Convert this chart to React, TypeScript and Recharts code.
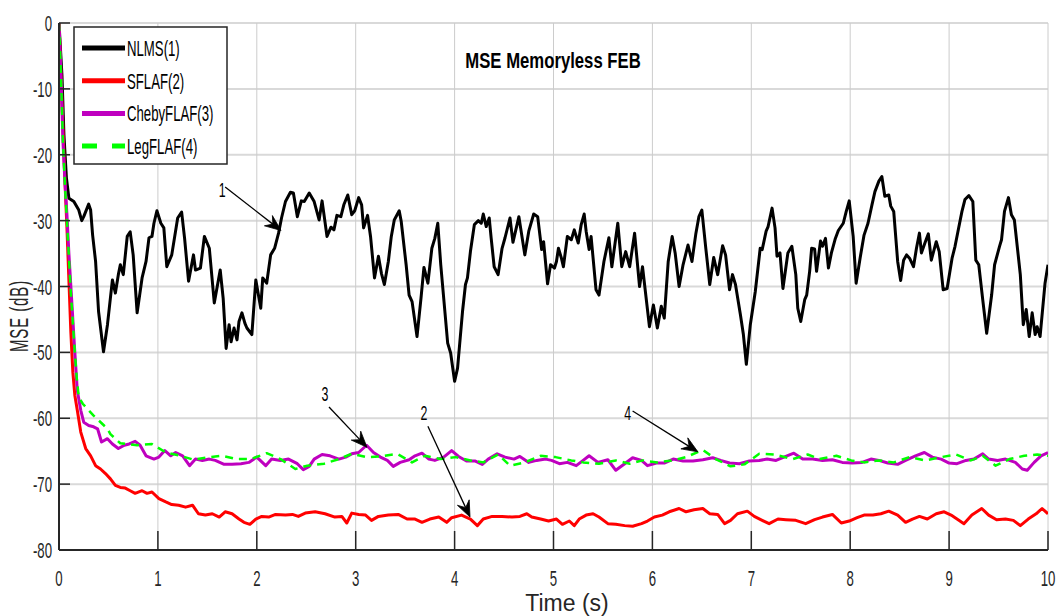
import React from 'react';
import { LineChart, Line, XAxis, YAxis, CartesianGrid, Legend, ReferenceLine, ReferenceDot } from 'recharts';

const xTicks = [0, 1, 2, 3, 4, 5, 6, 7, 8, 9, 10];
const yTicks = [-80, -70, -60, -50, -40, -30, -20, -10, 0];
const seriesNames = ['NLMS(1)', 'SFLAF(2)', 'ChebyFLAF(3)', 'LegFLAF(4)'];
const titleText = 'MSE Memoryless FEB';
const xLabel = 'Time (s)';
const yLabel = 'MSE (dB)';

const nlms: [number, number][] = [[0,0],[0.03,-8],[0.05,-17],[0.075,-23.5],[0.1,-26.6],[0.15,-27.1],[0.2,-28.4],[0.23,-30],[0.25,-29.4],[0.3,-27.5],[0.32,-28.4],[0.34,-32.2],[0.37,-36.2],[0.4,-43.8],[0.45,-49.9],[0.49,-45.8],[0.54,-39],[0.57,-41],[0.6,-38.2],[0.62,-36.7],[0.65,-38.2],[0.69,-32.4],[0.72,-31.7],[0.75,-35.2],[0.79,-44],[0.84,-38.7],[0.88,-36.2],[0.91,-32.6],[0.94,-32.4],[0.96,-30.4],[0.99,-28.5],[1.03,-30.4],[1.06,-31.1],[1.09,-37],[1.14,-35.2],[1.2,-29.6],[1.24,-28.7],[1.27,-32.7],[1.31,-39.2],[1.36,-35.2],[1.38,-37.5],[1.43,-37.2],[1.47,-32.4],[1.52,-34.2],[1.57,-42.5],[1.63,-37.5],[1.66,-41.8],[1.69,-49.4],[1.72,-45.8],[1.74,-48.4],[1.77,-46.3],[1.8,-48.1],[1.82,-45.3],[1.85,-44],[1.88,-45.6],[1.9,-46.3],[1.95,-47.3],[1.99,-39],[2.04,-43.3],[2.06,-38.7],[2.1,-39.5],[2.14,-35.2],[2.18,-34.2],[2.22,-31.9],[2.25,-29.6],[2.29,-27.1],[2.34,-25.7],[2.37,-25.8],[2.41,-29.4],[2.45,-27],[2.48,-27.1],[2.53,-25.8],[2.58,-27.1],[2.63,-29.9],[2.66,-27],[2.71,-32.4],[2.75,-31],[2.78,-31.4],[2.81,-29.2],[2.85,-29.4],[2.88,-27.6],[2.92,-26.1],[2.96,-29.1],[2.99,-28.5],[3.03,-26.5],[3.06,-27.6],[3.08,-31.1],[3.12,-29.2],[3.15,-32.4],[3.19,-38.7],[3.23,-35.4],[3.26,-38],[3.29,-39.7],[3.33,-36.2],[3.36,-32.4],[3.39,-29.9],[3.44,-28.5],[3.46,-30.1],[3.51,-36.7],[3.54,-41.3],[3.57,-42.3],[3.62,-47.6],[3.66,-41.8],[3.69,-37.1],[3.73,-39.5],[3.77,-34.2],[3.8,-32.7],[3.83,-30.4],[3.86,-36.7],[3.93,-48.6],[3.96,-50.1],[4,-54.4],[4.03,-52.4],[4.08,-43.8],[4.11,-39.7],[4.13,-38.7],[4.16,-34.7],[4.2,-30.6],[4.24,-30],[4.27,-30.4],[4.29,-29],[4.32,-30.9],[4.35,-29.6],[4.37,-32.7],[4.4,-37],[4.44,-38.2],[4.48,-34.2],[4.51,-32.6],[4.56,-29.6],[4.59,-33.3],[4.65,-29.4],[4.71,-35.2],[4.75,-31.6],[4.8,-29],[4.84,-29.4],[4.88,-34.4],[4.9,-33.2],[4.94,-39.6],[4.97,-36.7],[5.01,-37.2],[5.03,-36.2],[5.05,-34.2],[5.08,-35.7],[5.1,-37],[5.14,-32.4],[5.18,-32.9],[5.21,-31.4],[5.25,-33.4],[5.28,-30.6],[5.31,-29],[5.33,-31.6],[5.36,-34.4],[5.38,-32.4],[5.43,-40.5],[5.46,-41.3],[5.51,-36.2],[5.56,-32.6],[5.59,-37],[5.65,-30.4],[5.69,-37],[5.73,-34.7],[5.77,-37],[5.82,-31.9],[5.87,-40],[5.9,-37],[5.97,-46.1],[6.01,-42.8],[6.05,-46.3],[6.09,-43],[6.12,-44.8],[6.16,-36.2],[6.2,-32.4],[6.23,-34.9],[6.27,-40],[6.31,-36.7],[6.36,-33.7],[6.4,-36.2],[6.44,-31.9],[6.47,-29.4],[6.5,-28.4],[6.54,-34.2],[6.58,-39.7],[6.62,-35.6],[6.66,-38.2],[6.71,-33.8],[6.74,-35.2],[6.78,-40.5],[6.81,-38.2],[6.84,-39.7],[6.89,-44.3],[6.92,-47.3],[6.95,-51.8],[6.99,-45.8],[7.04,-40.8],[7.09,-34.2],[7.11,-34.4],[7.15,-31.6],[7.17,-30.9],[7.21,-28.1],[7.24,-31.1],[7.26,-35.4],[7.29,-34.9],[7.32,-40.3],[7.37,-34.9],[7.41,-33.9],[7.45,-38.2],[7.47,-43.3],[7.5,-45.3],[7.54,-42],[7.56,-41.3],[7.59,-37.7],[7.61,-34.2],[7.64,-34.3],[7.66,-37.7],[7.7,-33.1],[7.72,-33.9],[7.75,-32.7],[7.78,-37.2],[7.81,-34.9],[7.85,-32.7],[7.88,-31.5],[7.93,-30.4],[7.96,-28.6],[7.99,-27],[8.03,-32.4],[8.06,-39.5],[8.1,-35.7],[8.14,-32.2],[8.18,-30.4],[8.22,-27.6],[8.25,-25.6],[8.29,-24],[8.32,-23.3],[8.35,-26.3],[8.39,-26.1],[8.41,-27.8],[8.44,-28.6],[8.48,-36.2],[8.51,-39.1],[8.54,-36],[8.57,-35.2],[8.6,-35.7],[8.64,-37],[8.67,-34.2],[8.7,-31.9],[8.72,-34.9],[8.76,-33.2],[8.79,-32],[8.82,-36],[8.87,-33.2],[8.9,-34.7],[8.94,-40.5],[8.98,-40.3],[9.03,-35.7],[9.06,-33.9],[9.09,-31.6],[9.13,-28.6],[9.16,-26.8],[9.2,-26.2],[9.24,-27.1],[9.27,-36],[9.3,-36.7],[9.34,-42],[9.38,-47.1],[9.43,-41.3],[9.46,-36.7],[9.51,-33.9],[9.53,-32.9],[9.56,-28.6],[9.6,-26.5],[9.63,-29.1],[9.66,-29.9],[9.72,-38.2],[9.75,-45.8],[9.78,-43.5],[9.81,-47.6],[9.84,-44],[9.87,-47.3],[9.89,-46.1],[9.92,-47.6],[9.97,-39.5],[10,-36.7]];

const sflaf: [number, number][] = [[0,0],[0.02,-8],[0.04,-16],[0.06,-24],[0.08,-31],[0.1,-39],[0.12,-47],[0.14,-53],[0.16,-56.5],[0.185,-58.8],[0.22,-62.1],[0.27,-64.6],[0.32,-65.7],[0.37,-67.2],[0.42,-67.7],[0.47,-68.4],[0.52,-69.2],[0.57,-70.2],[0.62,-70.5],[0.67,-70.6],[0.72,-71],[0.77,-71.4],[0.84,-71],[0.89,-71.4],[0.94,-71.2],[1.01,-72.2],[1.08,-72.7],[1.14,-73.1],[1.21,-73.2],[1.28,-73.5],[1.35,-73.2],[1.41,-74.5],[1.48,-74.7],[1.55,-74.5],[1.62,-75],[1.68,-74.2],[1.75,-74.5],[1.82,-75.3],[1.87,-75.8],[1.93,-76.1],[1.99,-75.3],[2.05,-74.9],[2.12,-75],[2.19,-74.6],[2.29,-74.7],[2.36,-74.6],[2.42,-74.9],[2.49,-74.4],[2.59,-74.2],[2.69,-74.5],[2.79,-75],[2.86,-74.9],[2.91,-75.9],[2.96,-74.4],[3.03,-74.6],[3.1,-74.7],[3.16,-75.5],[3.23,-74.9],[3.33,-74.7],[3.43,-74.6],[3.52,-75.3],[3.6,-75.3],[3.67,-75.8],[3.75,-75.3],[3.84,-75],[3.92,-75.8],[3.97,-75.1],[4.07,-74.7],[4.16,-75.3],[4.23,-76.3],[4.29,-75.3],[4.38,-74.9],[4.48,-74.9],[4.58,-75],[4.66,-74.9],[4.73,-74.5],[4.78,-75],[4.87,-75.3],[4.95,-75.6],[5.03,-75.3],[5.09,-76.1],[5.16,-75.6],[5.21,-76.3],[5.26,-75.3],[5.33,-74.7],[5.4,-74.5],[5.46,-75],[5.55,-76],[5.63,-76.1],[5.72,-76.3],[5.8,-76.4],[5.89,-76],[5.95,-75.6],[6.02,-75],[6.1,-74.7],[6.17,-74.2],[6.27,-73.7],[6.34,-74.2],[6.42,-73.9],[6.51,-73.7],[6.58,-74.5],[6.66,-74.6],[6.73,-76],[6.79,-75.5],[6.86,-74.5],[6.96,-74.1],[7.03,-74.9],[7.11,-75.5],[7.18,-76],[7.27,-75.3],[7.35,-75.4],[7.45,-75.5],[7.55,-76],[7.64,-75.4],[7.72,-75],[7.82,-74.6],[7.91,-75.9],[7.99,-75.6],[8.07,-75.1],[8.14,-74.7],[8.23,-74.7],[8.31,-74.5],[8.39,-74.1],[8.48,-74.7],[8.56,-75.8],[8.63,-75.3],[8.7,-74.9],[8.78,-75.3],[8.87,-74.5],[8.95,-74.2],[9.02,-74.7],[9.08,-75.3],[9.15,-76],[9.23,-74.7],[9.33,-73.7],[9.4,-74.7],[9.48,-75.4],[9.57,-75.3],[9.65,-75.5],[9.72,-76.3],[9.8,-75.3],[9.88,-74.5],[9.94,-73.7],[10,-74.5]];

const cheby: [number, number][] = [[0,0],[0.02,-8],[0.04,-18],[0.06,-24],[0.08,-29],[0.1,-35],[0.12,-40],[0.14,-45],[0.16,-50],[0.185,-55.8],[0.22,-58.8],[0.25,-60.6],[0.3,-61.1],[0.35,-61.3],[0.39,-61.6],[0.43,-63.6],[0.49,-63.1],[0.54,-63.9],[0.6,-64.6],[0.66,-64.1],[0.71,-63.9],[0.77,-63.5],[0.82,-64.1],[0.88,-65.7],[0.96,-66.2],[1.01,-65.9],[1.07,-64.9],[1.13,-65.7],[1.18,-65.2],[1.25,-65.7],[1.32,-67.2],[1.38,-66.2],[1.45,-66.4],[1.52,-66.2],[1.58,-66.4],[1.67,-67],[1.75,-67],[1.84,-66.9],[1.92,-66.7],[2,-65.9],[2.09,-67.2],[2.15,-66.2],[2.24,-66.4],[2.32,-66.2],[2.41,-66.9],[2.47,-67.8],[2.53,-67.3],[2.58,-66.2],[2.66,-65.5],[2.74,-65.7],[2.83,-66.2],[2.9,-65.9],[2.96,-65.4],[3.03,-65.2],[3.11,-64.1],[3.18,-65.2],[3.25,-65.9],[3.32,-66.4],[3.38,-67.3],[3.45,-66.7],[3.54,-66.3],[3.6,-65.7],[3.67,-65.3],[3.74,-66.2],[3.8,-66.4],[3.89,-65.9],[3.97,-64.9],[4.04,-65.8],[4.12,-66.5],[4.21,-66.5],[4.28,-67],[4.34,-66.2],[4.43,-65.4],[4.51,-65.9],[4.6,-66.2],[4.66,-65.8],[4.75,-66.7],[4.83,-66.4],[4.92,-66.2],[4.98,-66.4],[5.06,-66.9],[5.14,-66.7],[5.23,-67.2],[5.3,-66.4],[5.36,-65.7],[5.45,-66.7],[5.55,-66.3],[5.63,-67.9],[5.72,-66.9],[5.8,-66],[5.89,-66.4],[5.95,-67.2],[6.04,-66.8],[6.12,-66.8],[6.21,-66.2],[6.31,-66.5],[6.41,-66.5],[6.51,-66.3],[6.61,-66],[6.69,-66.4],[6.78,-66.8],[6.88,-66.9],[6.98,-66.5],[7.08,-66.4],[7.16,-66.2],[7.25,-66.4],[7.33,-65.9],[7.43,-65.3],[7.52,-66.2],[7.62,-66.2],[7.72,-66.4],[7.82,-66.3],[7.92,-66.7],[8.02,-66.8],[8.12,-66.7],[8.21,-66.2],[8.29,-66.4],[8.38,-66.8],[8.48,-67],[8.56,-66.4],[8.66,-65.7],[8.75,-65.2],[8.83,-65.9],[8.92,-66.2],[9,-66.8],[9.08,-66.9],[9.17,-66.4],[9.25,-66.2],[9.34,-65.4],[9.4,-66.2],[9.49,-66.4],[9.57,-66.2],[9.67,-66.7],[9.74,-67.7],[9.79,-67.9],[9.86,-66.7],[9.93,-65.7],[10,-65.2]];

const leg: [number, number][] = [[0,0],[0.02,-8],[0.04,-18],[0.06,-24.5],[0.08,-30],[0.1,-35.5],[0.12,-41],[0.14,-45.5],[0.16,-50],[0.18,-54],[0.2,-56.8],[0.24,-57.8],[0.35,-59.6],[0.49,-61.6],[0.52,-62.4],[0.62,-63.8],[0.79,-64.1],[0.94,-63.9],[1.08,-65.2],[1.23,-65.7],[1.36,-66.3],[1.52,-65.9],[1.65,-65.7],[1.8,-66.2],[1.94,-66.2],[2.1,-65.3],[2.24,-66.2],[2.39,-67.7],[2.51,-67.2],[2.68,-66.9],[2.83,-66.2],[2.96,-65.4],[3.11,-65.9],[3.25,-65.8],[3.42,-65.4],[3.57,-66.7],[3.7,-65.7],[3.86,-66.2],[4.01,-65.9],[4.16,-66.4],[4.29,-66.7],[4.44,-65.5],[4.56,-67.2],[4.71,-66.7],[4.87,-65.7],[5.02,-65.9],[5.18,-66.4],[5.3,-66.7],[5.46,-66.9],[5.63,-66.4],[5.77,-66.9],[5.9,-66.4],[6.05,-66.7],[6.21,-66.4],[6.34,-65.9],[6.51,-64.8],[6.64,-66.2],[6.79,-67.3],[6.93,-67],[7.08,-65.4],[7.23,-65.5],[7.42,-66.2],[7.57,-65.5],[7.69,-66.2],[7.86,-65.7],[8.01,-66.4],[8.14,-66.7],[8.29,-66.4],[8.44,-66.7],[8.6,-65.9],[8.76,-66.4],[8.92,-65.9],[9.07,-65.5],[9.22,-66.4],[9.34,-65.7],[9.47,-67.2],[9.61,-66.2],[9.76,-65.7],[9.89,-65.5],[10,-65.7]];

// annotation: label, label anchor, arrow start, arrow tip (data coords)
const annotations: { label: string; text: [number, number]; from: [number, number]; to: [number, number] }[] = [
  { label: '1', text: [1.65, -25.4], from: [1.68, -24.9], to: [2.245, -31.5] },
  { label: '3', text: [2.69, -56.3], from: [2.73, -58.3], to: [3.114, -64.4] },
  { label: '2', text: [3.69, -59.2], from: [3.73, -61.2], to: [4.156, -75.0] },
  { label: '4', text: [5.75, -59.2], from: [5.8, -58.9], to: [6.46, -65.1] },
];

const toPts = (a: [number, number][]) => a.map(([t, v]) => ({ t, v }));

const FONT = "'Liberation Sans', Arial, Helvetica, sans-serif";
const AXIS = '#262626';
const colors = ['#000000', '#ff0000', '#bf00bf', '#00ff00'];
const dashes: (string | undefined)[] = [undefined, undefined, undefined, '8 6'];
const seriesData = [nlms, sflaf, cheby, leg].map(toPts);

const PLOT_LEFT = 59;
const PLOT_BOTTOM = 550;

const YTick = (props: any) => {
  const { y, payload } = props;
  return (
    <g>
      <line x1={PLOT_LEFT} x2={PLOT_LEFT + 11} y1={y} y2={y} stroke={AXIS} strokeWidth={1.5} />
      <text
        transform={`translate(${PLOT_LEFT - 7},${y + 8}) scale(0.6,1)`}
        textAnchor="end"
        fontSize={22}
        fontFamily={FONT}
        fill={AXIS}
      >
        {payload.value}
      </text>
    </g>
  );
};

const XTick = (props: any) => {
  const { x, payload } = props;
  return (
    <g>
      <line x1={x} x2={x} y1={PLOT_BOTTOM} y2={PLOT_BOTTOM - 19} stroke={AXIS} strokeWidth={1.5} />
      <text
        transform={`translate(${x},${PLOT_BOTTOM + 36}) scale(0.6,1)`}
        textAnchor="middle"
        fontSize={22}
        fontFamily={FONT}
        fill={AXIS}
      >
        {payload.value}
      </text>
    </g>
  );
};

const Arrow = (props: any) => {
  const { x1, y1, x2, y2 } = props;
  if ([x1, y1, x2, y2].some((v) => typeof v !== 'number' || isNaN(v))) return null;
  const dx = x2 - x1;
  const dy = y2 - y1;
  const len = Math.sqrt(dx * dx + dy * dy) || 1;
  const ux = dx / len;
  const uy = dy / len;
  const nx = -uy;
  const ny = ux;
  const L = 16;
  const W = 6.5;
  const bx = x2 - L * ux;
  const by = y2 - L * uy;
  const mx = x2 - 0.65 * L * ux;
  const my = y2 - 0.65 * L * uy;
  const pts = `${x2},${y2} ${bx + W * nx},${by + W * ny} ${mx},${my} ${bx - W * nx},${by - W * ny}`;
  return (
    <g>
      <line x1={x1} y1={y1} x2={mx} y2={my} stroke="#000" strokeWidth={1.3} />
      <polygon points={pts} fill="#000" stroke="#000" strokeWidth={0.8} strokeLinejoin="miter" />
    </g>
  );
};

const renderLegend = () => (
  <svg width={156} height={140} style={{ display: 'block' }}>
    <rect x={1} y={1} width={153} height={137} fill="#ffffff" stroke={AXIS} strokeWidth={1.5} />
    {seriesNames.map((n, i) => {
      const y = 22 + i * 32.7;
      return (
        <g key={n}>
          <line x1={9} x2={52} y1={y} y2={y} stroke={colors[i]} strokeWidth={5} strokeDasharray={i === 3 ? '15 15' : undefined} />
          <text
            transform={`translate(54,${y + 8}) scale(0.6,1)`}
            fontSize={22}
            fontFamily={FONT}
            fill="#000"
          >
            {n}
          </text>
        </g>
      );
    })}
  </svg>
);

export default function App() {
  return (
    <div style={{ position: 'absolute', left: 0, top: 0, width: 1061, height: 616, background: '#fff' }}>
      <LineChart width={1061} height={616} margin={{ top: 23, right: 13, left: 0, bottom: 26 }}>
        <CartesianGrid vertical={false} stroke="#d9d9d9" strokeWidth={2} />
        <CartesianGrid horizontal={false} stroke="#cccccc" strokeWidth={1} />
        <XAxis
          type="number"
          dataKey="t"
          domain={[0, 10]}
          ticks={xTicks}
          interval={0}
          height={40}
          allowDataOverflow
          tickLine={false}
          axisLine={{ stroke: AXIS, strokeWidth: 2 }}
          tick={<XTick />}
        />
        <YAxis
          type="number"
          dataKey="v"
          domain={[-80, 0]}
          ticks={yTicks}
          interval={0}
          width={59}
          allowDataOverflow
          tickLine={false}
          axisLine={{ stroke: AXIS, strokeWidth: 2 }}
          tick={<YTick />}
        />
        {seriesData.map((d, i) => (
          <Line
            key={seriesNames[i]}
            data={d}
            dataKey="v"
            name={seriesNames[i]}
            type="linear"
            stroke={colors[i]}
            strokeWidth={i === 3 ? 2.5 : 3}
            strokeDasharray={dashes[i]}
            strokeLinejoin="round"
            dot={false}
            activeDot={false}
            isAnimationActive={false}
          />
        ))}
        {annotations.map((a) => (
          <ReferenceLine
            key={'arr' + a.label}
            segment={[{ x: a.from[0], y: a.from[1] }, { x: a.to[0], y: a.to[1] }]}
            stroke="#000"
            ifOverflow="visible"
            shape={(p: any) => <Arrow {...p} />}
          />
        ))}
        {annotations.map((a) => (
          <ReferenceDot
            key={'lbl' + a.label}
            x={a.text[0]}
            y={a.text[1]}
            r={0}
            fill="none"
            stroke="none"
            ifOverflow="visible"
            label={{
              content: (p: any) => {
                const vb = p.viewBox || {};
                const cx = (vb.x ?? 0) + (vb.width ?? 0) / 2;
                const cy = (vb.y ?? 0) + (vb.height ?? 0) / 2;
                return (
                  <text transform={`translate(${cx},${cy + 7}) scale(0.62,1)`} textAnchor="middle" fontSize={20} fontFamily={FONT} fill="#000">
                    {a.label}
                  </text>
                );
              },
            }}
          />
        ))}
        <Legend
          layout="vertical"
          align="center"
          verticalAlign="middle"
          wrapperStyle={{ left: 73, top: 26, width: 156, height: 140 }}
          content={renderLegend}
        />
        <text transform="translate(553,68) scale(0.76,1)" textAnchor="middle" fontSize={22} fontWeight="bold" fontFamily={FONT} fill="#000">
          {titleText}
        </text>
        <text transform="translate(567,611)" textAnchor="middle" fontSize={23} fontFamily={FONT} fill={AXIS}>
          {xLabel}
        </text>
        <text transform="translate(28,316) rotate(-90) scale(0.6,1)" textAnchor="middle" fontSize={25} letterSpacing={1.5} fontFamily={FONT} fill={AXIS}>
          {yLabel}
        </text>
      </LineChart>
    </div>
  );
}
